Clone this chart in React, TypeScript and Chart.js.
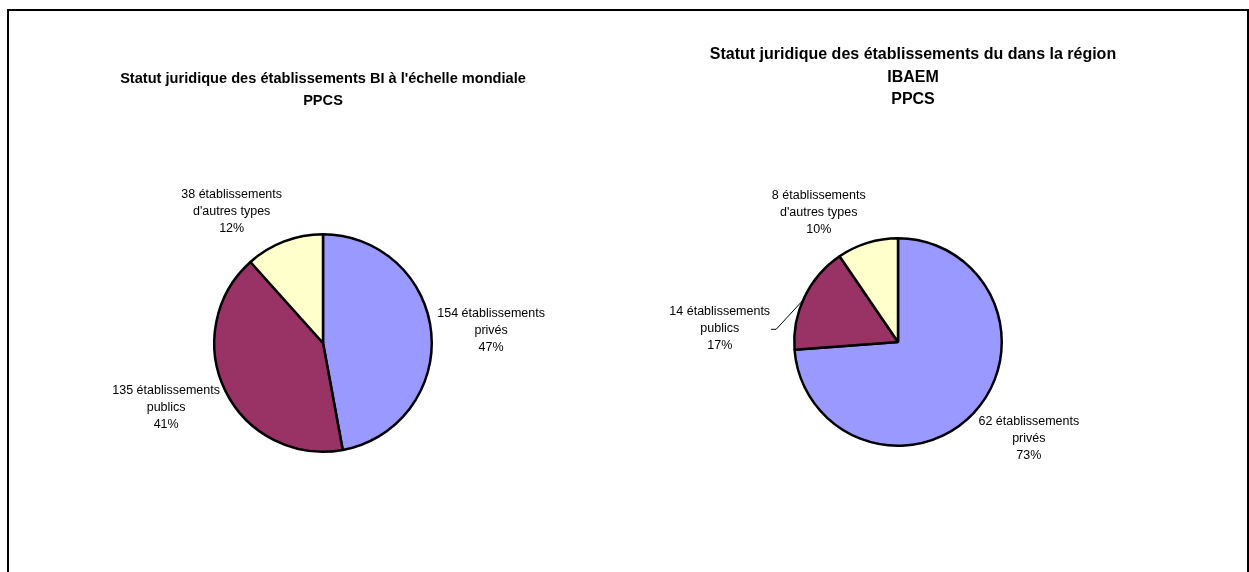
import React, { useEffect, useRef } from "react";
import { Chart, registerables } from "chart.js";

Chart.register(...registerables);

// ---- data ----
const categories = ["privés", "publics", "d'autres types"];
const worldCounts = [154, 135, 38];
const worldPercents = ["47%", "41%", "12%"];
const regionCounts = [62, 14, 8];
const regionPercents = ["73%", "17%", "10%"];
const worldTitle = ["Statut juridique des établissements BI à l'échelle mondiale", "PPCS"];
const regionTitle = ["Statut juridique des établissements du dans la région", "IBAEM", "PPCS"];
const sliceColors = ["#9999FF", "#993366", "#FFFFCC"];

const FONT = "'Liberation Sans', Arial, Helvetica, sans-serif";

const pieDecor = {
  id: "pieDecor",
  afterDatasetsDraw(chart: any, _args: any, opts: any) {
    const ctx = chart.ctx as CanvasRenderingContext2D;
    const meta = chart.getDatasetMeta(0);
    const area = chart.chartArea;
    ctx.save();
    // titles
    ctx.fillStyle = "#000";
    ctx.textAlign = "center";
    ctx.textBaseline = "middle";
    ctx.font = `bold ${opts.titleSize}px ${FONT}`;
    const tx = (area.left + area.right) / 2 + opts.titleOffsetX;
    (opts.title as string[]).forEach((t, k) => {
      ctx.fillText(t, tx, opts.titleTop + k * opts.titleLineHeight);
    });
    // labels
    ctx.font = `${opts.labelSize}px ${FONT}`;
    const lh = opts.labelLineHeight;
    meta.data.forEach((arc: any, i: number) => {
      const p = arc.getProps(["x", "y", "startAngle", "endAngle", "outerRadius"], true);
      const mid = (p.startAngle + p.endAngle) / 2;
      const dx = Math.cos(mid);
      const dy = Math.sin(mid);
      const lines: string[] = opts.labels[i];
      const hw = Math.max(...lines.map((l) => ctx.measureText(l).width)) / 2;
      const hh = (lines.length * lh) / 2;
      const rr = p.outerRadius + opts.gap;
      let cx = p.x + dx * rr + Math.sign(dx) * hw;
      let cy = p.y + dy * rr + dy * hh * (dy > 0 ? 1.28 : 1);
      const shift = opts.shifts ? opts.shifts[i] : null;
      if (shift) {
        cx += shift[0];
        cy += shift[1];
        const sx = cx + hw + 1;
        const sy = cy + 1;
        ctx.beginPath();
        ctx.strokeStyle = "#000";
        ctx.lineWidth = 1;
        ctx.moveTo(sx, sy);
        ctx.lineTo(sx + 5, sy);
        ctx.lineTo(p.x + dx * (p.outerRadius + 1), p.y + dy * (p.outerRadius + 1) + 3);
        ctx.stroke();
      }
      lines.forEach((l, k) => {
        ctx.fillText(l, cx, cy - hh + lh * (k + 0.5));
      });
    });
    ctx.restore();
  },
};

function buildLabels(counts: number[], pcts: string[]) {
  return counts.map((c, i) => [`${c} établissements`, categories[i], pcts[i]]);
}

function PieCanvas(props: {
  counts: number[];
  pcts: string[];
  title: string[];
  width: number;
  height: number;
  left: number;
  padding: { left: number; right: number; top: number; bottom: number };
  titleOffsetX: number;
  titleTop: number;
  titleSize: number;
  titleLineHeight: number;
  shifts: any[] | null;
}) {
  const ref = useRef<HTMLCanvasElement | null>(null);
  useEffect(() => {
    if (!ref.current) return;
    const chart = new Chart(ref.current, {
      type: "pie",
      data: {
        labels: categories,
        datasets: [
          {
            data: props.counts,
            backgroundColor: sliceColors,
            borderColor: "#000",
            borderWidth: 2.5,
          },
        ],
      },
      options: {
        responsive: false,
        animation: false,
        devicePixelRatio: 1,
        events: [],
        layout: { padding: props.padding },
        plugins: {
          legend: { display: false },
          tooltip: { enabled: false },
          title: { display: false },
          pieDecor: {
            title: props.title,
            titleSize: props.titleSize,
            titleLineHeight: props.titleLineHeight,
            titleTop: props.titleTop,
            titleOffsetX: props.titleOffsetX,
            labels: buildLabels(props.counts, props.pcts),
            labelSize: 12.5,
            labelLineHeight: 17,
            gap: 6,
            shifts: props.shifts,
          },
        } as any,
      },
      plugins: [pieDecor],
    });
    return () => chart.destroy();
  }, []);
  return (
    <canvas
      ref={ref}
      width={props.width}
      height={props.height}
      style={{ position: "absolute", left: props.left, top: 0, width: props.width, height: props.height }}
    />
  );
}

export default function App() {
  return (
    <div
      style={{
        position: "fixed",
        left: 7,
        top: 9,
        width: 1242,
        height: 600,
        boxSizing: "border-box",
        border: "2px solid #000",
        background: "#fff",
        overflow: "hidden",
      }}
    >
      <PieCanvas
        counts={worldCounts}
        pcts={worldPercents}
        title={worldTitle}
        width={600}
        height={561}
        left={0}
        padding={{ left: 204, right: 176, top: 222, bottom: 119 }}
        titleOffsetX={0}
        titleTop={68}
        titleSize={14.6}
        titleLineHeight={21.5}
        shifts={null}
      />
      <PieCanvas
        counts={regionCounts}
        pcts={regionPercents}
        title={regionTitle}
        width={638}
        height={561}
        left={600}
        padding={{ left: 184, right: 244, top: 226, bottom: 125 }}
        titleOffsetX={15}
        titleTop={44}
        titleSize={16}
        titleLineHeight={22.5}
        shifts={[null, [-29, 45], null]}
      />
    </div>
  );
}
